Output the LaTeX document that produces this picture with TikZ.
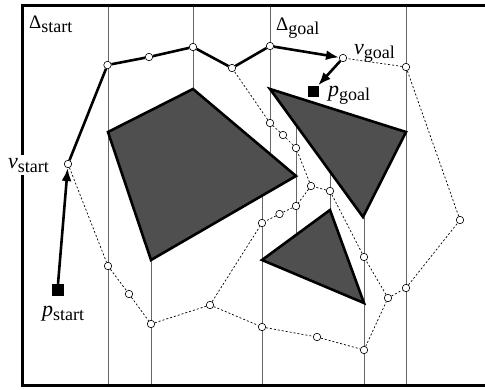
\documentclass[tikz,border=0pt]{standalone}
\usepackage{fontspec}
\setmainfont{Liberation Serif}
\usetikzlibrary{arrows.meta}
\newcommand\subtxt[1]{\raisebox{-4pt}{\fontsize{18}{18}\selectfont #1}}
\begin{document}
\begin{tikzpicture}[x=1pt,y=-1pt,
  vline/.style={draw=black!60, line width=0.9pt},
  obst/.style={fill=black!69, draw=black, line width=2.6pt, line join=miter},
  vtx/.style={circle, draw=black, fill=white, line width=0.6pt, minimum size=7.5pt, inner sep=0pt},
  rmap/.style={draw=black, line width=0.7pt, dash pattern=on 2pt off 2pt},
  route/.style={draw=black, line width=2.6pt, line join=round},
  arr/.style={draw=black, line width=2.6pt, -{Latex[length=13pt,width=10pt]}},
  pt/.style={rectangle, fill=black, inner sep=0pt, minimum size=#1},
  lbl/.style={inner sep=0pt, anchor=base west, font=\fontsize{22}{26}\selectfont},
  dlbl/.style={inner sep=0pt, anchor=base west, font=\fontsize{19}{22}\selectfont}
]
\useasboundingbox (0,0) rectangle (485,389);
% vertical decomposition lines
\draw[vline] (108,5) -- (108,386);
\draw[vline] (193,5) -- (193,89);
\draw[vline] (151,260) -- (151,386);
\draw[vline] (270,5) -- (270,154);
\draw[vline] (296,125) -- (296,235);
\draw[vline] (330,172) -- (330,210);
\draw[vline] (262,196) -- (262,386);
\draw[vline] (364,217) -- (364,386);
\draw[vline] (406,5) -- (406,386);
% obstacles
\draw[obst] (108,132) -- (193,89) -- (296,176) -- (151,260) -- cycle;
\draw[obst] (270,89) -- (406,132) -- (363,217) -- cycle;
\draw[obst] (262,260) -- (330,210) -- (364,303) -- cycle;
% outer border
\draw[line width=3pt] (490,5) -- (22,5) -- (22,385.5) -- (490,385.5);
% labels
\node[dlbl] (dstart) at (29,28.5) {Δ\subtxt{start}};
\node[dlbl] (dgoal) at (276,30.5) {Δ\subtxt{goal}};
\node[lbl, fill=white, inner sep=3pt] (lvs) at (5,168) {\textit{v}\subtxt{start}};
\node[lbl] (lvg) at (354,54) {\textit{v}\subtxt{goal}};
\node[lbl] (lpg) at (328,96) {\textit{p}\subtxt{goal}};
\node[lbl] (lps) at (42,316) {\textit{p}\subtxt{start}};
% points
\node[pt=12pt] (ps) at (57.5,290) {};
\node[pt=11pt] (pg) at (313,91) {};
% roadmap vertices
\node[vtx] (vs) at (68,164) {};
\node[vtx] (a1) at (107.5,65) {};
\node[vtx] (a2) at (149,57) {};
\node[vtx] (a3) at (193,47) {};
\node[vtx] (a4) at (232,68) {};
\node[vtx] (a5) at (270,46) {};
\node[vtx] (vg) at (343,58) {};
\node[vtx] (e4) at (406,67) {};
\node[vtx] (e3) at (460,220) {};
\node[vtx] (e2) at (406,288) {};
\node[vtx] (e1) at (388,298) {};
\node[vtx] (d3) at (364,350) {};
\node[vtx] (d2) at (317,337) {};
\node[vtx] (d1) at (262,327) {};
\node[vtx] (b4) at (210,305) {};
\node[vtx] (b3) at (151,324) {};
\node[vtx] (b2) at (129,294) {};
\node[vtx] (b1) at (108,266) {};
\node[vtx] (c1) at (262,223) {};
\node[vtx] (h2) at (279.5,214) {};
\node[vtx] (h1) at (296,206) {};
\node[vtx] (f3) at (311,186) {};
\node[vtx] (f2) at (330,191) {};
\node[vtx] (f1) at (364,257) {};
\node[vtx] (g1) at (296,148) {};
\node[vtx] (g2) at (283,135) {};
\node[vtx] (g3) at (270,123) {};
% dashed roadmap edges
\draw[rmap] (vs) -- (b1);
\draw[rmap] (b1) -- (b2);
\draw[rmap] (b2) -- (b3);
\draw[rmap] (b3) -- (b4);
\draw[rmap] (b4) -- (c1);
\draw[rmap] (b4) -- (d1);
\draw[rmap] (d1) -- (d2);
\draw[rmap] (d2) -- (d3);
\draw[rmap] (d3) -- (e1);
\draw[rmap] (e1) -- (e2);
\draw[rmap] (e2) -- (e3);
\draw[rmap] (e3) -- (e4);
\draw[rmap] (e4) -- (vg);
\draw[rmap] (e1) -- (f1);
\draw[rmap] (f1) -- (f2);
\draw[rmap] (f2) -- (f3);
\draw[rmap] (f3) -- (g1);
\draw[rmap] (g1) -- (g2);
\draw[rmap] (g2) -- (g3);
\draw[rmap] (g3) -- (a4);
\draw[rmap] (f3) -- (h1);
\draw[rmap] (h1) -- (h2);
\draw[rmap] (h2) -- (c1);
% solid path
\draw[route] (vs) -- (a1);
\draw[route] (a1) -- (a2);
\draw[route] (a2) -- (a3);
\draw[route] (a3) -- (a4);
\draw[route] (a4) -- (a5);
\draw[arr] (a5) -- (vg);
\draw[arr] (ps) -- (vs);
\draw[arr] (vg) -- (pg);
\end{tikzpicture}
\end{document}
